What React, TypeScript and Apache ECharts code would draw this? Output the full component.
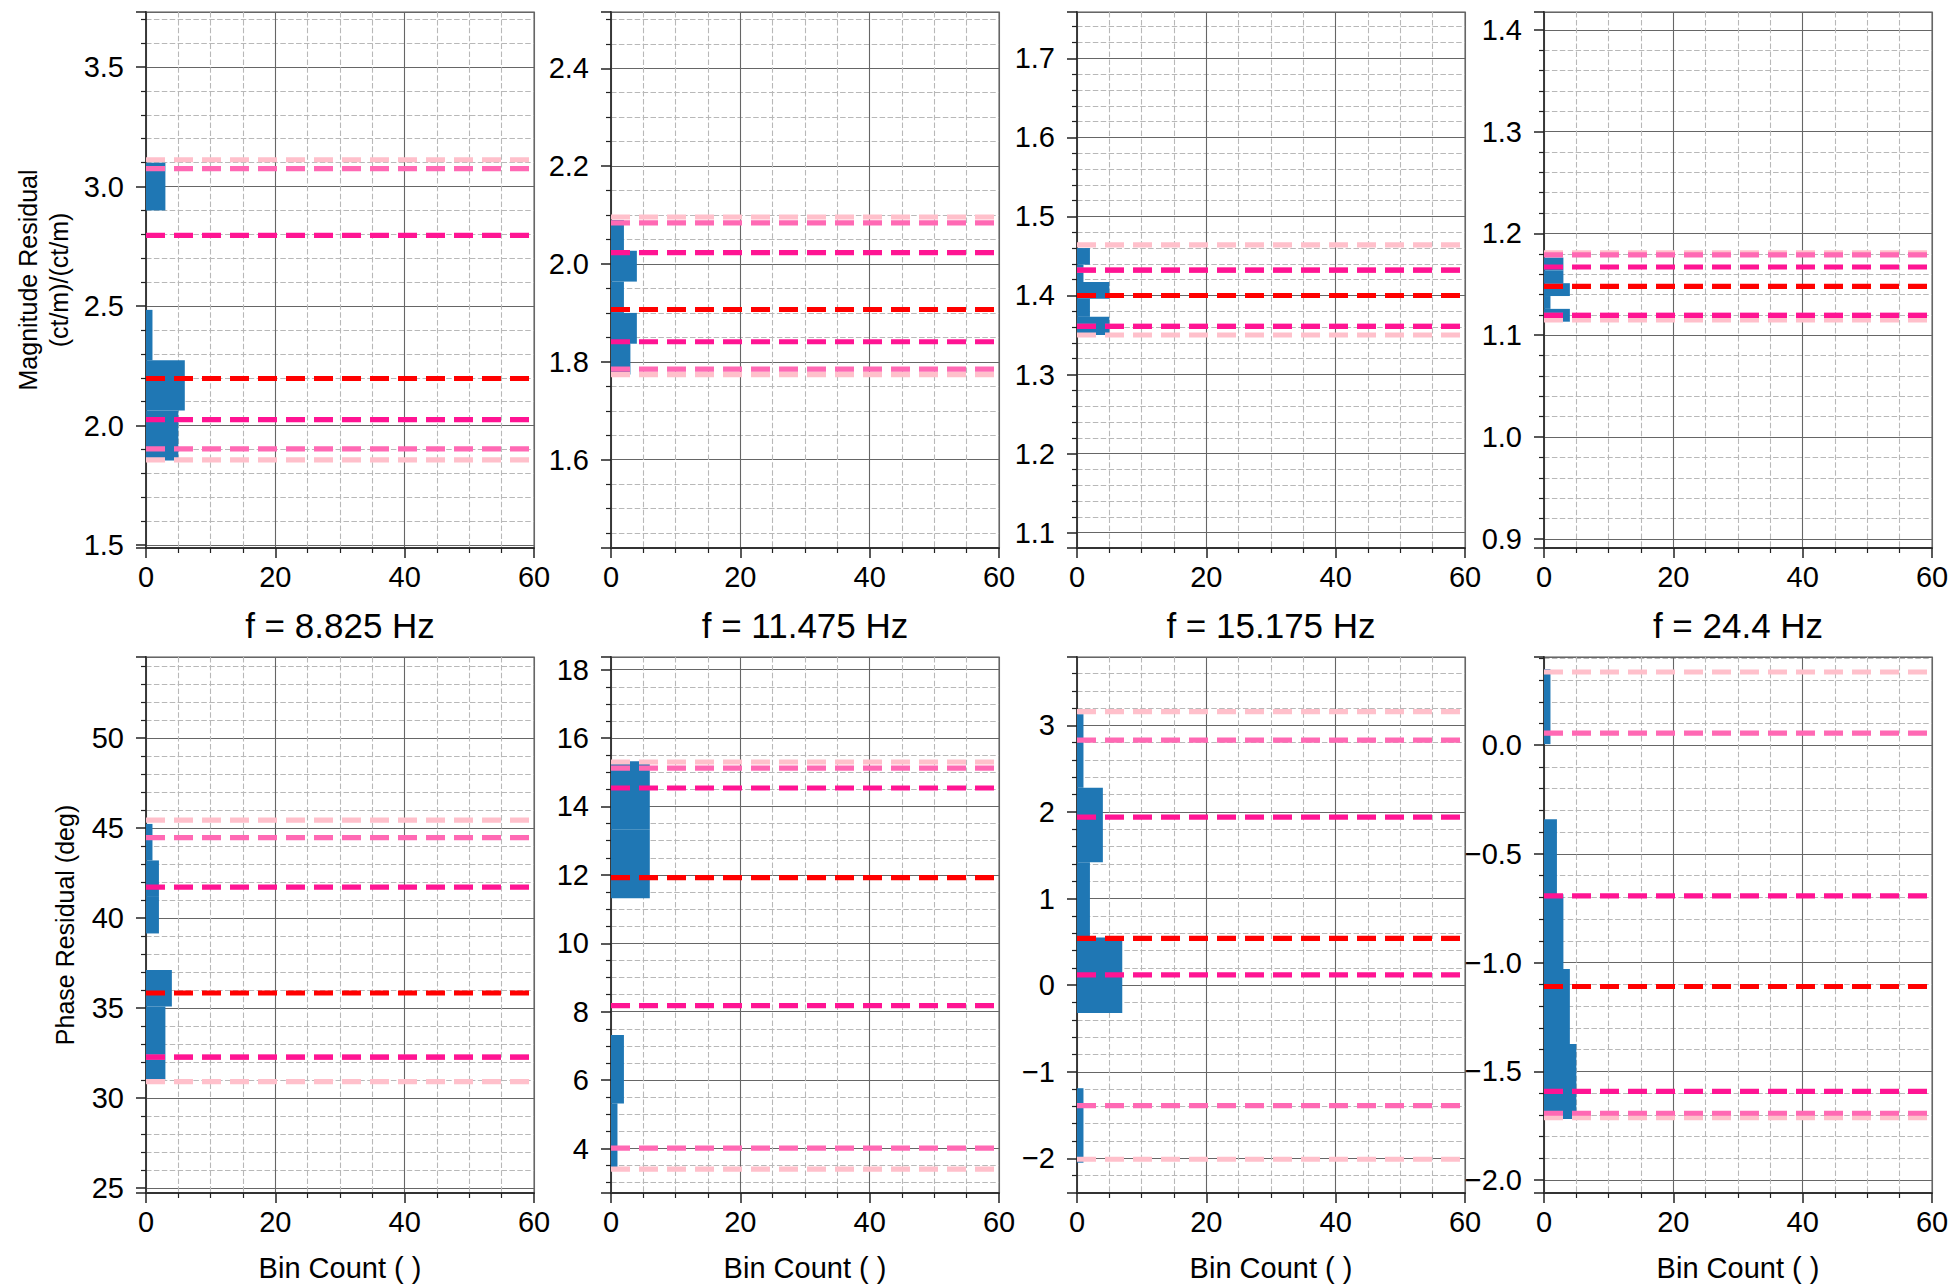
import React, { useEffect, useRef } from "react";
import * as echarts from "echarts";

// ---------- data ----------
const freqTitles = ["f = 8.825 Hz", "f = 11.475 Hz", "f = 15.175 Hz", "f = 24.4 Hz"];
const xTicks = [0, 20, 40, 60];

// Magnitude residual histograms (bin edges bottom-up, counts per bin)
const magEdges1 = [1.854, 2.063, 2.273, 2.484, 2.694, 2.9, 3.1];
const magCounts1 = [5, 6, 1, 0, 0, 3];
const magEdges2 = [1.774, 1.837, 1.9, 1.964, 2.027, 2.09];
const magCounts2 = [3, 4, 2, 4, 2];
const magEdges3 = [1.35, 1.373, 1.396, 1.417, 1.439, 1.46];
const magCounts3 = [5, 2, 5, 1, 2];
const magEdges4 = [1.1133, 1.1259, 1.1385, 1.1511, 1.1637, 1.1763];
const magCounts4 = [4, 1, 4, 3, 3];

// Phase residual histograms
const phaseEdges1 = [31.02, 33.05, 35.08, 37.11, 39.14, 41.17, 43.2, 45.23];
const phaseCounts1 = [3, 3, 4, 0, 2, 2, 1];
const phaseEdges2 = [3.42, 5.32, 7.32, 9.32, 11.32, 13.32, 15.32];
const phaseCounts2 = [1, 2, 0, 0, 6, 6];
const phaseEdges3 = [-2.05, -1.19, -0.32, 0.55, 1.42, 2.28, 3.13];
const phaseCounts3 = [1, 0, 7, 2, 4, 1];
const phaseEdges4 = [-1.72, -1.375, -1.03, -0.685, -0.34, 0.005, 0.35];
const phaseCounts4 = [5, 4, 3, 2, 0, 1];

// Quantile lines: [pink lo, hotpink lo, deeppink lo, median, deeppink hi, hotpink hi, pink hi]
const magLines1 = [1.857, 1.903, 2.025, 2.197, 2.796, 3.075, 3.112];
const magLines2 = [1.774, 1.785, 1.841, 1.907, 2.023, 2.084, 2.096];
const magLines3 = [1.35, 1.361, 1.361, 1.4, 1.432, 1.432, 1.464];
const magLines4 = [1.115, 1.1196, 1.1196, 1.148, 1.167, 1.179, 1.181];
const phaseLines1 = [30.9, 32.26, 32.26, 35.83, 41.72, 44.47, 45.44];
const phaseLines2 = [3.4, 4.01, 8.18, 11.92, 14.54, 15.12, 15.3];
const phaseLines3 = [-2.01, -1.39, 0.12, 0.54, 1.94, 2.83, 3.16];
const phaseLines4 = [-1.713, -1.693, -1.592, -1.11, -0.693, 0.056, 0.337];

// Axis ranges and tick labels
const magRange1 = [1.488, 3.73];
const magRange2 = [1.4195, 2.515];
const magRange3 = [1.0806, 1.7586];
const magRange4 = [0.891, 1.4175];
const phaseRange1 = [24.71, 54.51];
const phaseRange2 = [2.7, 18.37];
const phaseRange3 = [-2.4, 3.79];
const phaseRange4 = [-2.06, 0.406];

const magTicks1 = [1.5, 2.0, 2.5, 3.0, 3.5];
const magTicks2 = [1.6, 1.8, 2.0, 2.2, 2.4];
const magTicks3 = [1.1, 1.2, 1.3, 1.4, 1.5, 1.6, 1.7];
const magTicks4 = [0.9, 1.0, 1.1, 1.2, 1.3, 1.4];
const phaseTicks1 = [25, 30, 35, 40, 45, 50];
const phaseTicks2 = [4, 6, 8, 10, 12, 14, 16, 18];
const phaseTicks3 = [-2, -1, 0, 1, 2, 3];
const phaseTicks4 = [-2.0, -1.5, -1.0, -0.5, 0.0];

const magMinorSplit = [5, 4, 5, 5];
const phaseMinorSplit = [5, 4, 5, 5];
const magDecimals = [1, 1, 1, 1];
const phaseDecimals = [0, 0, 0, 1];

const lineColors = ["#ffc0cb", "#ff69b4", "#ff1493", "#ff0000", "#ff1493", "#ff69b4", "#ffc0cb"];
const lineDrawOrder = [0, 6, 1, 5, 2, 4, 3];

// ---------- layout ----------
const FONT = "'Liberation Sans', Arial, Helvetica, sans-serif";
const colLeft = [146, 611, 1077, 1544];
const rowTop = [12, 657];
const gridW = 388;
const gridH = 536;

const panels = [
  { edges: magEdges1, counts: magCounts1, lines: magLines1, range: magRange1, ticks: magTicks1, minor: magMinorSplit[0], dec: magDecimals[0] },
  { edges: magEdges2, counts: magCounts2, lines: magLines2, range: magRange2, ticks: magTicks2, minor: magMinorSplit[1], dec: magDecimals[1] },
  { edges: magEdges3, counts: magCounts3, lines: magLines3, range: magRange3, ticks: magTicks3, minor: magMinorSplit[2], dec: magDecimals[2] },
  { edges: magEdges4, counts: magCounts4, lines: magLines4, range: magRange4, ticks: magTicks4, minor: magMinorSplit[3], dec: magDecimals[3] },
  { edges: phaseEdges1, counts: phaseCounts1, lines: phaseLines1, range: phaseRange1, ticks: phaseTicks1, minor: phaseMinorSplit[0], dec: phaseDecimals[0] },
  { edges: phaseEdges2, counts: phaseCounts2, lines: phaseLines2, range: phaseRange2, ticks: phaseTicks2, minor: phaseMinorSplit[1], dec: phaseDecimals[1] },
  { edges: phaseEdges3, counts: phaseCounts3, lines: phaseLines3, range: phaseRange3, ticks: phaseTicks3, minor: phaseMinorSplit[2], dec: phaseDecimals[2] },
  { edges: phaseEdges4, counts: phaseCounts4, lines: phaseLines4, range: phaseRange4, ticks: phaseTicks4, minor: phaseMinorSplit[3], dec: phaseDecimals[3] },
];

function fmt(v: number, d: number) {
  const x = Math.abs(v) < 1e-9 ? 0 : v;
  return x.toFixed(d).replace("-", "\u2212");
}

function buildOption() {
  const grids: any[] = [];
  const xAxes: any[] = [];
  const yAxes: any[] = [];
  const series: any[] = [];

  panels.forEach((p, i) => {
    const row = i < 4 ? 0 : 1;
    const col = i % 4;
    grids.push({
      left: colLeft[col],
      top: rowTop[row],
      width: gridW,
      height: gridH,
      show: true,
      borderColor: "#8c8c8c",
      borderWidth: 1.5,
      backgroundColor: "#ffffff",
    });

    xAxes.push({
      type: "value",
      gridIndex: i,
      min: xTicks[0],
      max: xTicks[xTicks.length - 1],
      interval: xTicks[1] - xTicks[0],
      axisLine: { show: true, onZero: false, lineStyle: { color: "#333", width: 1.8 } },
      axisTick: { show: true, inside: false, length: 10, lineStyle: { color: "#222", width: 1.5 } },
      minorTick: { show: true, splitNumber: 4, length: 5, lineStyle: { color: "#222", width: 1.2 } },
      splitLine: { show: true, lineStyle: { color: "#666666", width: 1.1 } },
      minorSplitLine: { show: true, lineStyle: { color: "#b8b8b8", width: 1.1, type: [5.5, 2.4] } },
      axisLabel: { margin: 14, fontSize: 29, color: "#000", fontFamily: FONT },
      name: row === 1 ? "Bin Count ( )" : "",
      nameLocation: "middle",
      nameGap: 60,
      nameTextStyle: { fontSize: 29, color: "#000", fontFamily: FONT },
    });

    const interval = +(p.ticks[1] - p.ticks[0]).toFixed(6);
    let yName = "";
    let yGap = 0;
    if (col === 0 && row === 0) {
      yName = "Magnitude Residual\n(ct/m)/(ct/m)";
      yGap = 72;
    } else if (col === 0 && row === 1) {
      yName = "Phase Residual (deg)";
      yGap = 66;
    }
    const dec = p.dec;
    yAxes.push({
      type: "value",
      gridIndex: i,
      min: p.range[0],
      max: p.range[1],
      minInterval: interval,
      maxInterval: interval,
      splitNumber: 5,
      axisLine: { show: true, onZero: false, lineStyle: { color: "#333", width: 1.8 } },
      axisTick: { show: true, inside: false, length: 10, lineStyle: { color: "#222", width: 1.5 } },
      minorTick: { show: true, splitNumber: p.minor, length: 5, lineStyle: { color: "#222", width: 1.2 } },
      splitLine: { show: true, lineStyle: { color: "#666666", width: 1.1 } },
      minorSplitLine: { show: true, lineStyle: { color: "#b8b8b8", width: 1.1, type: [5.5, 2.4] } },
      axisLabel: {
        margin: 22,
        fontSize: 29,
        color: "#000",
        fontFamily: FONT,
        showMinLabel: false,
        showMaxLabel: false,
        formatter: (v: number) => fmt(v, dec),
      },
      name: yName,
      nameLocation: "middle",
      nameRotate: 90,
      nameGap: yGap,
      nameTextStyle: { fontSize: 25, lineHeight: 31, color: "#000", fontFamily: FONT, align: "center" },
    });

    // histogram bars
    series.push({
      type: "custom",
      xAxisIndex: i,
      yAxisIndex: i,
      z: 2,
      silent: true,
      data: p.counts.map((c, k) => [p.edges[k], p.edges[k + 1], c]),
      encode: { x: 2, y: [0, 1] },
      renderItem: (params: any, api: any) => {
        const y0 = api.value(0);
        const y1 = api.value(1);
        const c = api.value(2);
        if (!c) return null;
        const a = api.coord([0, y1]);
        const b = api.coord([c, y0]);
        return {
          type: "rect",
          shape: { x: a[0], y: a[1], width: b[0] - a[0], height: b[1] - a[1] },
          style: { fill: "#1f77b4", stroke: null },
        };
      },
    });

    // quantile lines
    lineDrawOrder.forEach((k) => {
      const v = p.lines[k];
      series.push({
        type: "line",
        xAxisIndex: i,
        yAxisIndex: i,
        z: 3,
        silent: true,
        symbol: "none",
        data: [
          [xTicks[0], v],
          [xTicks[xTicks.length - 1], v],
        ],
        lineStyle: { color: lineColors[k], width: 5.2, type: [19, 9], cap: "butt" },
      });
    });
  });

  const titles = freqTitles.map((t, c) => ({
    text: t,
    left: colLeft[c] + gridW / 2,
    top: 608,
    textAlign: "center",
    padding: 0,
    textStyle: { fontSize: 35, fontWeight: "normal", color: "#000", fontFamily: FONT },
  }));

  return {
    animation: false,
    backgroundColor: "#ffffff",
    title: titles,
    grid: grids,
    xAxis: xAxes,
    yAxis: yAxes,
    series,
  };
}

export default function App() {
  const ref = useRef<HTMLDivElement>(null);
  useEffect(() => {
    if (!ref.current) return;
    const chart = echarts.init(ref.current, null, { renderer: "svg" });
    chart.setOption(buildOption() as any);
    return () => chart.dispose();
  }, []);
  return (
    <div
      ref={ref}
      style={{ position: "fixed", left: 0, top: 0, width: 1955, height: 1287, background: "#fff" }}
    />
  );
}
